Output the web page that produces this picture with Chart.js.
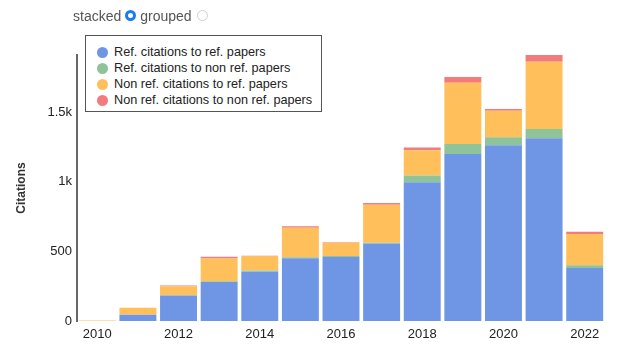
<!DOCTYPE html>
<html>
<head>
<meta charset="utf-8">
<script src="https://cdn.jsdelivr.net/npm/chart.js@4"></script>
<style>
  html, body { margin:0; padding:0; background:#fff; }
  body { width:618px; height:357px; position:relative; overflow:hidden; font-family:"Liberation Sans", Arial, Helvetica, sans-serif; }
  #wrap { position:absolute; left:0; top:0; width:618px; height:357px; }
  #controls { position:absolute; left:73px; top:7px; font-size:14px; color:#555; display:flex; align-items:center; height:17px; }
  .radio { display:inline-block; border-radius:50%; box-sizing:border-box; margin:0 4px 0 4px; }
  .on { border:3px solid #1a7cf5; background:#fff; width:11px; height:11px; }
  .off { border:1px solid #d0d0d0; background:#fff; width:11px; height:11px; margin-left:5px; }
  #legend { position:absolute; left:85px; top:35px; width:237px; height:77px; border:1px solid #555; box-sizing:border-box; background:#fff; padding-top:8px; }
  .item { display:flex; align-items:center; height:16px; font-size:12.7px; color:#222; white-space:nowrap; }
  .dot { width:11px; height:11px; border-radius:50%; margin-left:11px; margin-right:6px; flex:none; }
</style>
</head>
<body>
<div id="wrap"><canvas id="c" width="618" height="357"></canvas></div>
<div id="controls"><span>stacked</span><span class="radio on"></span><span>grouped</span><span class="radio off"></span></div>
<div id="legend"></div>
<script>
const years = ["2010","2011","2012","2013","2014","2015","2016","2017","2018","2019","2020","2021","2022"];
const refToRef = [0,45,183,280,353,450,460,554,995,1199,1261,1311,381];
const refToNonRef = [0,0,2,5,9,8,6,8,50,71,57,67,19];
const nonRefToRef = [3,50,65,163,105,212,96,273,180,440,191,483,225];
const nonRefToNonRef = [0,0,4,13,2,10,3,12,21,41,12,48,15];
const seriesNames = ["Ref. citations to ref. papers","Ref. citations to non ref. papers","Non ref. citations to ref. papers","Non ref. citations to non ref. papers"];
const seriesColors = ["#6f96e5","#8fc39a","#ffc05b","#f47b7b"];
const yTicks = [0,500,1000,1500];
const yTickLabels = ["0","500","1k","1.5k"];
const yMax = 1909;

const seriesData = [refToRef, refToNonRef, nonRefToRef, nonRefToNonRef];

const legend = document.getElementById('legend');
seriesNames.forEach((n,i)=>{
  const d = document.createElement('div'); d.className='item';
  d.innerHTML = '<span class="dot" style="background:'+seriesColors[i]+'"></span><span>'+n+'</span>';
  legend.appendChild(d);
});

new Chart(document.getElementById('c'), {
  type: 'bar',
  data: {
    labels: years,
    datasets: seriesNames.map((n,i)=>({
      label: n,
      data: seriesData[i],
      backgroundColor: seriesColors[i],
      borderWidth: 0,
      barPercentage: 0.91,
      categoryPercentage: 1.0
    }))
  },
  options: {
    responsive: false,
    animation: false,
    layout: { padding: { top: 55, right: 13, bottom: 0, left: 0 } },
    plugins: { legend: { display: false }, tooltip: { enabled: false } },
    scales: {
      x: {
        stacked: true,
        grid: { display: false, drawTicks: false },
        border: { display: false },
        afterFit: s => { s.height = 36; },
        ticks: {
          autoSkip: false, maxRotation: 0, padding: 6,
          color: '#222',
          font: { family: '"Liberation Sans", Arial, sans-serif', size: 13 },
          callback: function(v, i) { return i % 2 === 0 ? years[i] : ''; }
        }
      },
      y: {
        stacked: true,
        min: 0, max: yMax,
        grid: { display: false, drawTicks: false },
        border: { display: true, color: '#666', width: 2 },
        afterFit: s => { s.width = 77; },
        afterBuildTicks: s => { s.ticks = yTicks.map(v => ({ value: v })); },
        ticks: {
          padding: 5,
          color: '#222',
          font: { family: '"Liberation Sans", Arial, sans-serif', size: 13 },
          callback: function(v) { const k = yTicks.indexOf(v); return k >= 0 ? yTickLabels[k] : ''; }
        },
        title: {
          display: true, text: 'Citations', color: '#333',
          font: { family: '"Liberation Sans", Arial, sans-serif', size: 12, weight: 'bold' },
          padding: { top: 14, bottom: 0 }
        }
      }
    }
  }
});
</script>
</body>
</html>
